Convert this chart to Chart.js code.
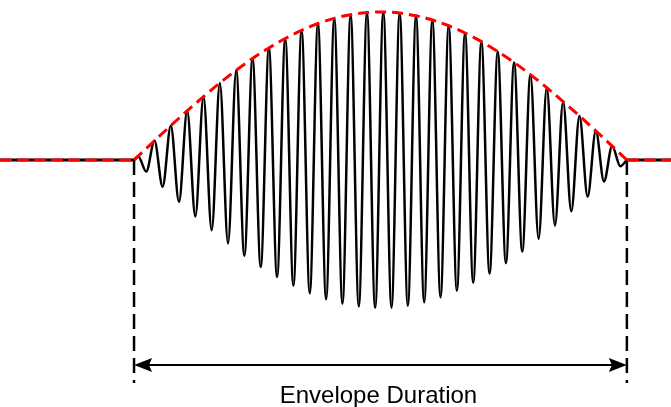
<!DOCTYPE html>
<html>
<head>
<meta charset="utf-8">
<script src="https://cdn.jsdelivr.net/npm/chart.js@4.4.1/dist/chart.umd.min.js"></script>
<style>
  html, body { margin: 0; padding: 0; background: #fff; }
  #wrap { width: 671px; height: 407px; position: relative; }
</style>
</head>
<body>
<div id="wrap"><canvas id="myChart"></canvas></div>
<script>
// time in carrier cycles, amplitude normalised to the envelope peak
const tStart = 0;
const tEnd = 30.15;
const xMin = -8.2;
const xMax = 32.85;

// extrema of the carrier (peaks and troughs)
const waveT = [0, 0.25, 0.75, 1.25, 1.75, 2.25, 2.75, 3.25, 3.75, 4.25, 4.75, 5.25, 5.75, 6.25, 6.75,
  7.25, 7.75, 8.25, 8.75, 9.25, 9.75, 10.25, 10.75, 11.25, 11.75, 12.25, 12.75, 13.25, 13.75,
  14.25, 14.75, 15.25, 15.75, 16.25, 16.75, 17.25, 17.75, 18.25, 18.75, 19.25, 19.75, 20.25,
  20.75, 21.25, 21.75, 22.25, 22.75, 23.25, 23.75, 24.25, 24.75, 25.25, 25.75, 26.25, 26.75,
  27.25, 27.75, 28.25, 28.75, 29.25, 29.75, 30.15];
const waveV = [0, 0.026, -0.078, 0.130, -0.181, 0.232, -0.283, 0.332, -0.381, 0.428, -0.475,
  0.520, -0.564, 0.606, -0.647, 0.686, -0.723, 0.757, -0.791, 0.821, -0.850, 0.876, -0.900,
  0.922, -0.941, 0.957, -0.971, 0.982, -0.990, 0.996, -0.999, 1.000, -0.998, 0.993, -0.985,
  0.974, -0.961, 0.946, -0.928, 0.907, -0.884, 0.858, -0.830, 0.800, -0.768, 0.733, -0.697,
  0.659, -0.619, 0.577, -0.533, 0.489, -0.443, 0.395, -0.347, 0.298, -0.248, 0.197, -0.145,
  0.094, -0.042, 0];

// envelope (red dashed) through the peaks
const envT = [0, 0.25, 1.25, 2.25, 3.25, 4.25, 5.25, 6.25, 7.25, 8.25, 9.25, 10.25, 11.25, 12.25,
  13.25, 14.25, 15.25, 16.25, 17.25, 18.25, 19.25, 20.25, 21.25, 22.25, 23.25, 24.25, 25.25,
  26.25, 27.25, 28.25, 29.25, 30.15];
const envV = [0, 0.026, 0.130, 0.232, 0.332, 0.428, 0.520, 0.606, 0.686, 0.757, 0.821, 0.876,
  0.922, 0.957, 0.982, 0.996, 1.000, 0.993, 0.974, 0.946, 0.907, 0.858, 0.800, 0.733, 0.659,
  0.577, 0.489, 0.395, 0.298, 0.197, 0.094, 0];

const markerBottom = -1.507;
const arrowY = -1.385;
const label = "Envelope Duration";

const pts = (xs, ys) => xs.map((x, i) => ({ x: x, y: ys[i] }));
const flat = [{ x: xMin, y: 0 }, { x: tStart, y: 0 }, { x: 15, y: null }, { x: tEnd, y: 0 }, { x: xMax, y: 0 }];

const extras = {
  id: "extras",
  afterDatasetsDraw(chart) {
    const ctx = chart.ctx;
    const xs = chart.scales.x, ys = chart.scales.y;
    const x1 = xs.getPixelForValue(tStart), x2 = xs.getPixelForValue(tEnd);
    const ay = ys.getPixelForValue(arrowY);
    ctx.save();
    ctx.fillStyle = "#000";
    // arrow heads
    ctx.beginPath();
    ctx.moveTo(x1, ay);
    ctx.lineTo(x1 + 18, ay - 7);
    ctx.lineTo(x1 + 15, ay);
    ctx.lineTo(x1 + 18, ay + 7);
    ctx.closePath();
    ctx.fill();
    ctx.beginPath();
    ctx.moveTo(x2, ay);
    ctx.lineTo(x2 - 18, ay - 7);
    ctx.lineTo(x2 - 15, ay);
    ctx.lineTo(x2 - 18, ay + 7);
    ctx.closePath();
    ctx.fill();
    // label
    ctx.font = '24px "Liberation Sans", Arial, sans-serif';
    ctx.textAlign = "center";
    ctx.textBaseline = "alphabetic";
    ctx.fillText(label, (x1 + x2) / 2 - 2, 403);
    ctx.restore();
  }
};

new Chart(document.getElementById("myChart"), {
  type: "line",
  data: {
    datasets: [
      {
        data: flat,
        borderColor: "red",
        borderWidth: 3,
        borderDash: [12, 5],
        spanGaps: false,
        order: 0,
      },
      {
        data: pts(envT, envV),
        borderColor: "red",
        borderWidth: 3,
        borderDash: [11, 6],
        cubicInterpolationMode: "monotone",
        order: 0,
      },
      {
        data: pts(waveT, waveV),
        borderColor: "#000",
        borderWidth: 2.5,
        cubicInterpolationMode: "monotone",
        order: 1,
      },
      {
        data: flat,
        borderColor: "#000",
        borderWidth: 3,
        spanGaps: false,
        order: 2,
      },
      {
        data: [{ x: tStart, y: 0 }, { x: tStart, y: markerBottom }],
        borderColor: "#000",
        borderWidth: 2.5,
        borderDash: [15, 7],
        order: 2,
      },
      {
        data: [{ x: tEnd, y: 0 }, { x: tEnd, y: markerBottom }],
        borderColor: "#000",
        borderWidth: 2.5,
        borderDash: [15, 7],
        order: 2,
      },
      {
        data: [{ x: tStart + 0.6, y: arrowY }, { x: tEnd - 0.6, y: arrowY }],
        borderColor: "#000",
        borderWidth: 2,
        order: 2,
      },
    ],
  },
  options: {
    responsive: true,
    maintainAspectRatio: false,
    animation: false,
    events: [],
    elements: { point: { radius: 0 } },
    layout: { padding: 0, autoPadding: false },
    scales: {
      x: { type: "linear", min: xMin, max: xMax, display: false },
      y: { type: "linear", min: -1.669, max: 1.081, display: false },
    },
    plugins: { legend: { display: false }, tooltip: { enabled: false } },
  },
  plugins: [extras],
});
</script>
</body>
</html>
